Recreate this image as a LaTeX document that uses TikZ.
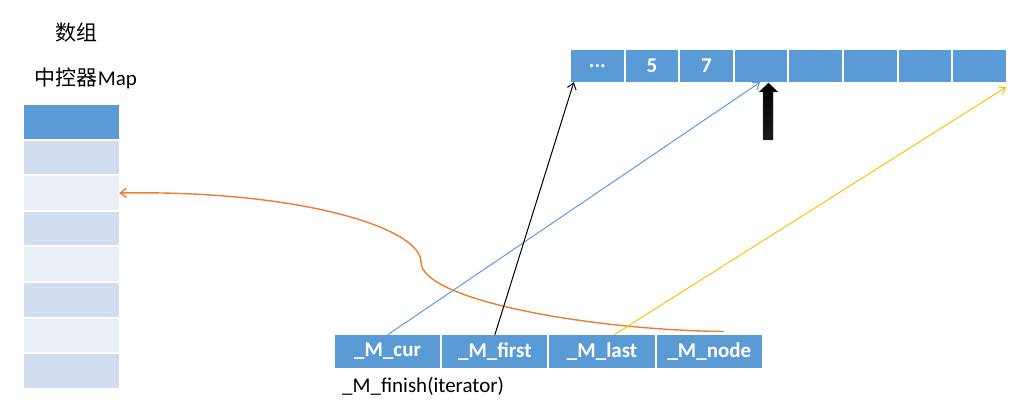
\documentclass[tikz,border=0pt]{standalone}
\usepackage{fontspec}
\setmainfont{Carlito}
\newfontfamily\cjk{Noto Sans CJK SC}
\usetikzlibrary{arrows.meta}
\definecolor{cdark}{HTML}{5B9BD5}
\definecolor{cmid}{HTML}{D2DEEF}
\definecolor{clight}{HTML}{EAEFF7}
\definecolor{corange}{HTML}{ED7D31}
\definecolor{cyellow}{HTML}{FFC000}
\definecolor{cblue}{HTML}{5B9BD5}
\begin{document}
\begin{tikzpicture}[x=1pt,y=-1pt,
  cell/.style={rectangle,inner sep=0pt,draw=none,text=white,font=\fontsize{21}{24}\selectfont\bfseries},
  mapcell/.style={cell,minimum width=95pt,minimum height=33.6pt},
  topcell/.style={cell,fill=cdark,minimum width=52.6pt,minimum height=32pt},
  botcell/.style={cell,fill=cdark,minimum width=105.25pt,minimum height=33pt},
  lbl/.style={inner sep=0pt,font=\fontsize{21}{24}\selectfont},
  tip/.style={-{Straight Barb[length=6pt,width=9pt]},line width=1pt}]
\useasboundingbox (0,0) rectangle (1011,411);
% labels
\node[lbl] (title) at (76,33) {\cjk 数组};
\node[lbl] (maplbl) at (86,78) {\cjk 中控器\rmfamily Map};
% map column
\node[mapcell,fill=cdark]  (m1) at (71.5,121.8) {};
\node[mapcell,fill=cmid]   (m2) at (71.5,157.4) {};
\node[mapcell,fill=clight] (m3) at (71.5,193.0) {};
\node[mapcell,fill=cmid]   (m4) at (71.5,228.6) {};
\node[mapcell,fill=clight] (m5) at (71.5,264.2) {};
\node[mapcell,fill=cmid]   (m6) at (71.5,299.8) {};
\node[mapcell,fill=clight] (m7) at (71.5,335.4) {};
\node[mapcell,fill=cmid]   (m8) at (71.5,371.0) {};
% top buffer
\foreach \i/\t in {1/{...},2/5,3/7,4/{},5/{},6/{},7/{},8/{}}{
  \node[topcell] (t\i) at ({571+26.3+54.6*(\i-1)},66) {\t};
}
% bottom iterator
\node[botcell] (b1) at ({335+52.6},351.5) {\_M\_cur};
\node[botcell] (b2) at ({335+52.6+107.25},351.5) {\_M\_first};
\node[botcell] (b3) at ({335+52.6+2*107.25},351.5) {\_M\_last};
\node[botcell] (b4) at ({335+52.6+3*107.25},351.5) {\_M\_node};
\node[lbl,anchor=west] (fin) at (342,386) {\_M\_finish(iterator)};
% thick black arrow
\shade[top color=black,bottom color=black!90!white,draw=black!70,line width=0.4pt]
  (763,140) -- (763,92) -- (759,92) -- (768.5,83) -- (778,92) -- (773,92) -- (773,140) -- cycle;
% connectors
\coordinate (ostart) at (724,331.5);
\draw[tip,corange,line width=1.4pt] (ostart) .. controls (590,330) and (421,300) .. (421,262)
   .. controls (421,228) and (300,190) .. (m3.east);
\draw[tip,cblue] (b1.north) -- ([xshift=-1pt]t4.south);
\draw[tip,black] (b2.north) -- ([xshift=3pt]t1.south west);
\draw[tip,cyellow] ([xshift=12pt]b3.north) -- ([yshift=-5pt]t8.south east);
\end{tikzpicture}
\end{document}
